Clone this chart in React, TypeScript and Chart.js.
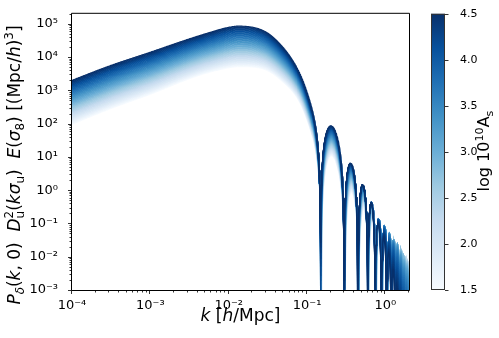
import React, { useEffect, useRef } from 'react';
import { Chart, registerables } from 'chart.js';
Chart.register(...registerables);

// ---------- data ----------
const xTickValues = [1e-4, 1e-3, 1e-2, 1e-1, 1];
const xTickLabels = ['10⁻⁴', '10⁻³', '10⁻²', '10⁻¹', '10⁰'];
const yTickValues = [1e-3, 1e-2, 1e-1, 1, 1e1, 1e2, 1e3, 1e4, 1e5];
const yTickLabels = ['10⁻³', '10⁻²', '10⁻¹', '10⁰', '10¹', '10²', '10³', '10⁴', '10⁵'];
const cbarTickValues = [1.5, 2.0, 2.5, 3.0, 3.5, 4.0, 4.5];
const cbarTickLabels = ['1.5', '2.0', '2.5', '3.0', '3.5', '4.0', '4.5'];

// one curve per value of log 10^10 A_s (colour bar)
const logAsValues = [
  1.5, 1.55, 1.6, 1.65, 1.7, 1.75, 1.8, 1.85, 1.9, 1.95, 2.0, 2.05, 2.1, 2.15, 2.2, 2.25,
  2.3, 2.35, 2.4, 2.45, 2.5, 2.55, 2.6, 2.65, 2.7, 2.75, 2.8, 2.85, 2.9, 2.95, 3.0, 3.05,
  3.1, 3.15, 3.2, 3.25, 3.3, 3.35, 3.4, 3.45, 3.5, 3.55, 3.6, 3.65, 3.7, 3.75, 3.8, 3.85,
  3.9, 3.95, 4.0, 4.05, 4.1, 4.15, 4.2, 4.25, 4.3, 4.35, 4.4, 4.45, 4.5,
];

// smooth (undamped by D_u) amplitude of the darkest curve (log10^10 As = 4.5)
const darkKnotK = [1e-4, 3e-4, 1e-3, 3e-3, 6e-3, 0.01, 0.0135, 0.0185, 0.03, 0.049, 0.08, 0.108, 0.2, 0.355, 0.514, 0.657, 0.8, 1.0, 1.5, 2.0];
const darkKnotS = [2000, 5400, 14000, 34000, 57000, 80000, 88000, 86000, 65000, 29000, 9700, 4300, 1950, 412, 175, 82, 30.6, 12.9, 0.553, 0.00654];
// spread of the fan: ratio lightest/darkest before the small-scale damping
const fanKnotK = [1e-4, 1e-3, 4.3e-3, 0.0126, 0.049, 0.08, 0.13, 0.3, 2.0];
const fanKnotRatio = [0.048, 0.055, 0.065, 0.06, 0.09, 0.13, 0.15, 0.1, 0.1];
// small-scale damping, weaker for small A_s: exp(q k^2 (1 - 10^(g (logAs - 4.5))))
const dampQ = 2.57;
const dampGamma = 0.475;
// velocity dispersion scale sigma_u [Mpc/h] (zeros of D_u at k = n*pi/sigma_u)
const sigmaUDark = 21.2;
const sigmaULight = 20.7;
const kMin = 1e-4;
const kMax = 2;
const nK = 1003;

// ---------- style ----------
const FONT = '"DejaVu Sans", sans-serif';
const BLUES = [
  [247, 251, 255], [222, 235, 247], [198, 219, 239], [158, 202, 225], [107, 174, 214],
  [66, 146, 198], [33, 113, 181], [8, 81, 156], [8, 48, 107],
];

function blues(t: number): string {
  const tt = Math.max(0, Math.min(1, t)) * (BLUES.length - 1);
  const i = Math.min(BLUES.length - 2, Math.floor(tt));
  const f = tt - i;
  const c = BLUES[i].map((v, j) => Math.round(v + (BLUES[i + 1][j] - v) * f));
  return `rgb(${c[0]},${c[1]},${c[2]})`;
}

// monotone cubic (Fritsch-Carlson) through knots in log-log space
function makeSmooth(ks: number[], vs: number[]) {
  const x = ks.map((k) => Math.log10(k));
  const y = vs.map((v) => Math.log10(v));
  const n = x.length;
  const d: number[] = [];
  for (let i = 0; i < n - 1; i++) d.push((y[i + 1] - y[i]) / (x[i + 1] - x[i]));
  const m: number[] = new Array(n);
  m[0] = d[0];
  m[n - 1] = d[n - 2];
  for (let i = 1; i < n - 1; i++) m[i] = d[i - 1] * d[i] <= 0 ? 0 : (d[i - 1] + d[i]) / 2;
  for (let i = 0; i < n - 1; i++) {
    if (d[i] === 0) { m[i] = 0; m[i + 1] = 0; continue; }
    const a = m[i] / d[i];
    const b = m[i + 1] / d[i];
    const s = a * a + b * b;
    if (s > 9) {
      const t = 3 / Math.sqrt(s);
      m[i] = t * a * d[i];
      m[i + 1] = t * b * d[i];
    }
  }
  return (k: number) => {
    const lk = Math.log10(k);
    if (lk <= x[0]) return vs[0];
    if (lk >= x[n - 1]) return vs[n - 1];
    let i = 0;
    while (i < n - 2 && lk > x[i + 1]) i++;
    const h = x[i + 1] - x[i];
    const t = (lk - x[i]) / h;
    const t2 = t * t;
    const t3 = t2 * t;
    const v = (2 * t3 - 3 * t2 + 1) * y[i] + (t3 - 2 * t2 + t) * h * m[i] + (-2 * t3 + 3 * t2) * y[i + 1] + (t3 - t2) * h * m[i + 1];
    return 10 ** v;
  };
}

function buildDatasets() {
  const kGrid: number[] = [];
  const l0 = Math.log10(kMin);
  const l1 = Math.log10(kMax);
  for (let i = 0; i < nK; i++) kGrid.push(10 ** (l0 + (i * (l1 - l0)) / (nK - 1)));
  const darkFn = makeSmooth(darkKnotK, darkKnotS);
  const fanFn = makeSmooth(fanKnotK, fanKnotRatio);
  const sDark = kGrid.map(darkFn);
  const fan = kGrid.map(fanFn);
  const lo = logAsValues[0];
  const hi = logAsValues[logAsValues.length - 1];
  const sorted = [...logAsValues].sort((a, b) => b - a); // darkest first -> drawn on top
  return sorted.map((la) => {
    const u = la - hi;
    const t = -u / (hi - lo);
    const damp = 1 - 10 ** (dampGamma * u);
    const sig = sigmaUDark + (sigmaULight - sigmaUDark) * t;
    const data = kGrid.map((k, i) => {
      const x = k * sig;
      const du = Math.sin(x) / x;
      const ratio = fan[i] ** t * Math.exp(dampQ * k * k * damp);
      return { x: k, y: sDark[i] * ratio * du * du };
    });
    return {
      label: String(la),
      data,
      borderColor: blues((la - lo) / (hi - lo)),
      borderWidth: 1.1,
      pointRadius: 0,
      fill: false,
      tension: 0,
    };
  });
}

// ---------- rich text ----------
type Seg = { t: string; it?: boolean; sub?: boolean; sup?: boolean; stack?: boolean };

function segFont(s: Seg, fs: number) {
  const size = s.sub || s.sup ? fs * 0.7 : fs;
  return `${s.it ? 'italic ' : ''}${size}px ${FONT}`;
}

function richWidth(ctx: CanvasRenderingContext2D, segs: Seg[], fs: number) {
  let w = 0;
  let pending = 0;
  for (const s of segs) {
    ctx.font = segFont(s, fs);
    const m = ctx.measureText(s.t).width;
    if (s.stack) { pending = m; continue; }
    w += Math.max(m, pending);
    pending = 0;
  }
  return w + pending;
}

function drawRich(ctx: CanvasRenderingContext2D, segs: Seg[], fs: number, cx: number, cy: number, rot: number) {
  ctx.save();
  ctx.translate(cx, cy);
  ctx.rotate(rot);
  ctx.fillStyle = '#000';
  ctx.textBaseline = 'alphabetic';
  ctx.textAlign = 'left';
  const w = richWidth(ctx, segs, fs);
  let x = -w / 2;
  let pending = 0;
  for (const s of segs) {
    ctx.font = segFont(s, fs);
    const m = ctx.measureText(s.t).width;
    const dy = s.sub ? fs * 0.22 : s.sup ? -fs * 0.4 : 0;
    ctx.fillText(s.t, x, dy);
    if (s.stack) { pending = m; continue; }
    x += Math.max(m, pending);
    pending = 0;
  }
  ctx.restore();
}

const yLabelSegs: Seg[] = [
  { t: 'P', it: true }, { t: 'δ', it: true, sub: true }, { t: '(' }, { t: 'k', it: true }, { t: ', 0)' }, { t: '  ' },
  { t: 'D', it: true }, { t: '2', sup: true, stack: true }, { t: 'u', sub: true }, { t: '(' }, { t: 'k', it: true },
  { t: 'σ', it: true }, { t: 'u', sub: true }, { t: ')' }, { t: '  ' },
  { t: 'E', it: true }, { t: '(' }, { t: 'σ', it: true }, { t: '8', sub: true }, { t: ')' },
  { t: ' [(Mpc/' }, { t: 'h', it: true }, { t: ')' }, { t: '3', sup: true }, { t: ']' },
];
const xLabelSegs: Seg[] = [{ t: 'k', it: true }, { t: ' [' }, { t: 'h', it: true }, { t: '/Mpc]' }];
const cbarLabelSegs: Seg[] = [{ t: 'log 10' }, { t: '10', sup: true }, { t: 'A' }, { t: 's', sub: true }];

const decor = {
  id: 'decor',
  afterDraw(chart: any) {
    const { ctx, chartArea: ca, scales } = chart;
    ctx.save();
    // spines
    ctx.strokeStyle = '#000';
    ctx.lineWidth = 1;
    ctx.beginPath();
    ctx.rect(ca.left - 0.5, ca.top - 0.5, ca.right - ca.left + 1, ca.bottom - ca.top + 1);
    ctx.stroke();
    // ticks
    ctx.lineWidth = 0.8;
    const xs = scales.x;
    const ys = scales.y;
    for (let d = -4; d <= 0; d++) {
      for (let m = 1; m <= 9; m++) {
        const v = m * 10 ** d;
        if (v > kMax) continue;
        const px = Math.round(xs.getPixelForValue(v)) - 0.5;
        const len = m === 1 ? 3.5 : 2;
        ctx.beginPath();
        ctx.moveTo(px, ca.bottom + 0.5);
        ctx.lineTo(px, ca.bottom + 0.5 + len);
        ctx.stroke();
      }
    }
    for (let d = -3; d <= 5; d++) {
      for (let m = 1; m <= 9; m++) {
        const v = m * 10 ** d;
        if (v > 2e5) continue;
        const py = Math.round(ys.getPixelForValue(v)) + 0.5;
        const len = m === 1 ? 3.5 : 2;
        ctx.beginPath();
        ctx.moveTo(ca.left - 0.5, py);
        ctx.lineTo(ca.left - 0.5 - len, py);
        ctx.stroke();
      }
    }
    // colour bar
    const cb = scales.cbar;
    const x1 = cb.left;
    const x0 = x1 - 14;
    const g = ctx.createLinearGradient(0, cb.bottom, 0, cb.top);
    BLUES.forEach((c, i) => g.addColorStop(i / (BLUES.length - 1), `rgb(${c[0]},${c[1]},${c[2]})`));
    ctx.fillStyle = g;
    ctx.fillRect(x0, cb.top, x1 - x0, cb.bottom - cb.top);
    ctx.strokeStyle = '#333';
    ctx.lineWidth = 1;
    ctx.strokeRect(x0 + 0.5, cb.top + 0.5, x1 - x0 - 1, cb.bottom - cb.top - 1);
    for (const v of cbarTickValues) {
      const py = Math.round(cb.getPixelForValue(v)) + 0.5;
      ctx.beginPath();
      ctx.moveTo(x1, py);
      ctx.lineTo(x1 + 3.5, py);
      ctx.stroke();
    }
    ctx.restore();
    // titles
    drawRich(ctx, xLabelSegs, 17, (ca.left + ca.right) / 2, 321, 0);
    drawRich(ctx, yLabelSegs, 17, 20, 165, -Math.PI / 2);
    drawRich(ctx, cbarLabelSegs, 16, 489, 151, -Math.PI / 2);
  },
};

function labelFor(values: number[], labels: string[], v: number, log: boolean) {
  const i = values.findIndex((t) => (log ? Math.abs(Math.log10(t) - Math.log10(v)) < 1e-6 : Math.abs(t - v) < 1e-6));
  return i >= 0 ? labels[i] : '';
}

export default function App() {
  const ref = useRef<HTMLCanvasElement | null>(null);
  useEffect(() => {
    if (!ref.current) return;
    const chart = new Chart(ref.current, {
      type: 'line',
      data: { datasets: buildDatasets() as any },
      options: {
        animation: false,
        responsive: false,
        parsing: false,
        normalized: true,
        events: [],
        layout: { padding: { left: 0, top: 10, right: 0, bottom: 0 } },
        plugins: { legend: { display: false }, tooltip: { enabled: false } },
        scales: {
          x: {
            type: 'logarithmic', position: 'bottom', min: kMin, max: kMax,
            grid: { display: false }, border: { display: false },
            ticks: {
              color: '#000', font: { family: FONT, size: 13 }, padding: 0, maxRotation: 0, autoSkip: false,
              callback: (v: any) => labelFor(xTickValues, xTickLabels, Number(v), true),
            },
            afterBuildTicks: (s: any) => { s.ticks = xTickValues.map((v) => ({ value: v })); },
            afterFit: (s: any) => { s.height = 48; },
          },
          y: {
            type: 'logarithmic', position: 'left', min: 1e-3, max: 2e5,
            grid: { display: false }, border: { display: false },
            ticks: {
              color: '#000', font: { family: FONT, size: 13 }, padding: 6, autoSkip: false,
              callback: (v: any) => labelFor(yTickValues, yTickLabels, Number(v), true),
            },
            afterBuildTicks: (s: any) => { s.ticks = yTickValues.map((v) => ({ value: v })); },
            afterFit: (s: any) => { s.width = 72; },
          },
          spacer: {
            type: 'linear', position: 'right', min: 0, max: 1, weight: 0,
            grid: { display: false }, border: { display: false }, ticks: { display: false },
            afterFit: (s: any) => { s.width = 36; },
          },
          cbar: {
            type: 'linear', position: 'right', min: 1.5, max: 4.5, weight: 1,
            grid: { display: false }, border: { display: false },
            ticks: {
              color: '#000', font: { family: FONT, size: 11 }, padding: 7, autoSkip: false,
              callback: (v: any) => labelFor(cbarTickValues, cbarTickLabels, Number(v), false),
            },
            afterBuildTicks: (s: any) => { s.ticks = cbarTickValues.map((v) => ({ value: v })); },
            afterFit: (s: any) => { s.width = 54; },
          },
        } as any,
      },
      plugins: [decor],
    });
    return () => chart.destroy();
  }, []);
  return (
    <div style={{ position: 'absolute', left: 0, top: 0, width: 499, height: 338, background: '#fff' }}>
      <canvas ref={ref} width={499} height={338} />
    </div>
  );
}
